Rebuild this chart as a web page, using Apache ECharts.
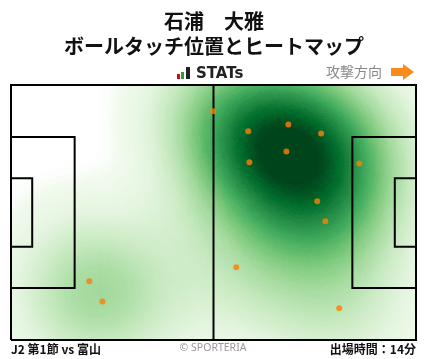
<!DOCTYPE html>
<html><head><meta charset="utf-8">
<script src="https://cdn.jsdelivr.net/npm/echarts@6/dist/echarts.min.js"></script>
<style>html,body{margin:0;padding:0;background:#fff}#c{width:428px;height:359px}</style>
</head><body><div id="c"></div>
<script>
const playerName = '石浦　大雅';
const chartTitle = 'ボールタッチ位置とヒートマップ';
const matchLabel = 'J2 第1節 vs 富山';
const minutesLabel = '出場時間：14分';
const directionLabel = '攻撃方向';
const creditLabel = '© SPORTERIA';
const brandLabel = 'STATs';
// Ball-touch locations in metres: x along the pitch (attacking left→right), y up from the bottom touchline
const touchX = [52.4, 20.3, 23.7, 61.5, 71.9, 80.4, 71.4, 61.8, 90.3, 79.4, 81.5, 58.4, 85.1];
const touchY = [61.0, 15.7, 10.3, 55.7, 57.5, 55.1, 50.3, 47.4, 47.1, 37.0, 31.7, 19.4, 8.5];
// Pitch dimensions (m)
const pitchLength = 105, pitchWidth = 68;
const penaltyDepth = 16.5, penaltyWidth = 40.3, goalAreaDepth = 5.5, goalAreaWidth = 18.3;
// Sequential green colour scale (light → dark)
const greens = ['#f7fcf5','#e5f5e0','#c7e9c0','#a1d99b','#74c476','#41ab5d','#238b45','#006d2c','#00441b'];

function boxCoords(fromLeft, depth, width) {
  const y0 = (pitchWidth - width) / 2, y1 = y0 + width;
  const x0 = fromLeft ? 0 : pitchLength, x1 = fromLeft ? depth : pitchLength - depth;
  return [[x0, y0], [x1, y0], [x1, y1], [x0, y1]];
}
const pitchLines = [
  [[0,0],[pitchLength,0],[pitchLength,pitchWidth],[0,pitchWidth],[0,0]],
  [[pitchLength/2,0],[pitchLength/2,pitchWidth]],
  boxCoords(true, penaltyDepth, penaltyWidth),
  boxCoords(true, goalAreaDepth, goalAreaWidth),
  boxCoords(false, penaltyDepth, penaltyWidth),
  boxCoords(false, goalAreaDepth, goalAreaWidth)
];

// colour ramp indexed by accumulated blur opacity
function hexToRgb(h){return [parseInt(h.substr(1,2),16),parseInt(h.substr(3,2),16),parseInt(h.substr(5,2),16)];}
function mix(a, b, f){return a.map((v,k)=>Math.round(v + (b[k]-v)*f));}
function greensRgb(t){
  t = Math.max(0, Math.min(1, t)) * (greens.length - 1);
  const i = Math.min(greens.length - 2, Math.floor(t)), f = t - i;
  return mix(hexToRgb(greens[i]), hexToRgb(greens[i+1]), f);
}
const saturation = 1.2, fadeStart = 0.01, fadeEnd = 0.045;
const ramp = [];
for (let i = 0; i < 192; i++) {
  const A = Math.min(0.995, i / 191);
  const t = -Math.log(1 - A) / saturation;
  let c = greensRgb(t);
  if (t < fadeEnd) c = mix([255,255,255], c, Math.max(0, (t - fadeStart) / (fadeEnd - fadeStart)));
  ramp.push('rgb(' + c.join(',') + ')');
}

echarts.registerMap('pitch', {type:'FeatureCollection', features:[{type:'Feature', properties:{name:'pitch'},
  geometry:{type:'Polygon', coordinates:[[[0,0],[pitchLength,0],[pitchLength,pitchWidth],[0,pitchWidth],[0,0]]]}}]});

const chart = echarts.init(document.getElementById('c'), null, {renderer:'canvas'});
const F = '"Noto Sans CJK JP", "Noto Sans", sans-serif';
chart.setOption({
  animation: false,
  backgroundColor: '#fff',
  geo: {map:'pitch', left:11, top:85, width:405, height:255, roam:false, silent:true,
    itemStyle:{areaColor:'#fff', borderWidth:0}, label:{show:false},
    emphasis:{disabled:true}, select:{disabled:true}, tooltip:{show:false}},
  visualMap: {type:'continuous', show:false, min:0, max:1, seriesIndex:0, inRange:{color: ramp}},
  series: [
    {type:'heatmap', coordinateSystem:'geo', data: touchX.map((x,i)=>[x, touchY[i], 1]),
     pointSize:36, blurSize:106, minOpacity:1, maxOpacity:1, silent:true, z:1},
    {type:'lines', coordinateSystem:'geo', polyline:true, silent:true, z:3,
     lineStyle:{color:'#000', width:2, opacity:1}, effect:{show:false},
     data: pitchLines.map(c=>({coords:c}))},
    {type:'scatter', coordinateSystem:'geo', silent:true, z:4, symbolSize:6,
     itemStyle:{color:'#ff8000'}, data: touchX.map((x,i)=>[x, touchY[i]])}
  ],
  graphic: [
    {type:'text', x:214, y:21, style:{text:playerName, font:'bold 20px '+F, fill:'#111', align:'center', verticalAlign:'middle'}},
    {type:'text', x:214, y:46, style:{text:chartTitle, font:'bold 20px '+F, fill:'#111', align:'center', verticalAlign:'middle'}},
    {type:'rect', shape:{x:177, y:74, width:3, height:5}, style:{fill:'#e60012'}},
    {type:'rect', shape:{x:181, y:72, width:3, height:7}, style:{fill:'#1fa33a'}},
    {type:'rect', shape:{x:186, y:67, width:4, height:12}, style:{fill:'#222'}},
    {type:'text', x:196, y:74, style:{text:brandLabel, font:'bold 15px "DejaVu Sans", sans-serif', fill:'#222', align:'left', verticalAlign:'middle'}},
    {type:'text', x:326, y:72, style:{text:directionLabel, font:'14px '+F, fill:'#888', align:'left', verticalAlign:'middle'}},
    {type:'polygon', shape:{points:[[391,68],[403,68],[403,64],[414,72],[403,80],[403,76],[391,76]]}, style:{fill:'#fb8a1c'}},
    {type:'text', x:11, y:349, style:{text:matchLabel, font:'bold 12px '+F, fill:'#111', align:'left', verticalAlign:'middle'}},
    {type:'text', x:213, y:348, style:{text:creditLabel, font:'10.5px "Noto Sans", sans-serif', fill:'#999', align:'center', verticalAlign:'middle'}},
    {type:'text', x:416, y:349, style:{text:minutesLabel, font:'bold 12px '+F, fill:'#111', align:'right', verticalAlign:'middle'}}
  ]
});
</script></body></html>
